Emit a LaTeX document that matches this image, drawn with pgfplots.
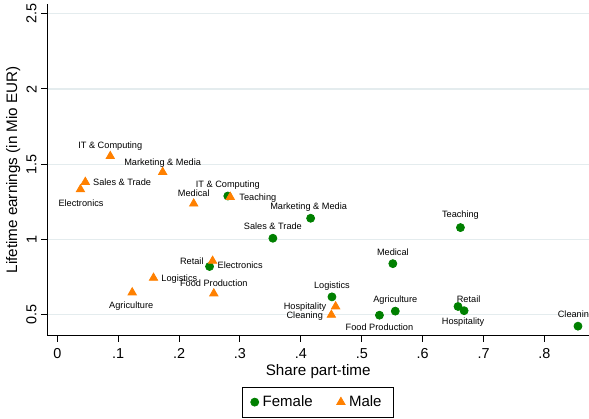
\documentclass[border=0pt]{standalone}
\usepackage{fontspec}
\setmainfont{Liberation Sans}
\usepackage{pgfplots}
\usepackage{pgfplotstable}
\pgfplotsset{compat=1.18}

\definecolor{stgreen}{RGB}{0,128,0}
\definecolor{storange}{RGB}{255,128,0}
\definecolor{stgrid}{RGB}{228,236,238}

% x, y, label, shift of the label centre (pt)
\pgfplotstableread[col sep=comma]{
x,y,label,dx,dy
0.280,1.288,IT \& Computing,0,5.4
0.416,1.140,Marketing \& Media,-1,5.5
0.354,1.007,Sales \& Trade,0,5.5
0.662,1.078,Teaching,0,6
0.551,0.838,Medical,0,5.5
0.250,0.819,Electronics,15.3,0
0.451,0.617,Logistics,0,5.5
0.555,0.522,Agriculture,0,5.5
0.529,0.495,Food Production,0,-6.5
0.658,0.553,Retail,5.3,3.3
0.668,0.525,Hospitality,-0.5,-5.8
0.855,0.422,Cleaning,-1,5.5
}\female

\pgfplotstableread[col sep=comma]{
x,y,label,dx,dy
0.087,1.553,IT \& Computing,0,5
0.173,1.447,Marketing \& Media,0,4.5
0.046,1.381,Sales \& Trade,18.4,-0.6
0.038,1.332,Electronics,0.3,-7.3
0.224,1.237,Medical,0,4.7
0.284,1.281,Teaching,13.8,-0.6
0.255,0.856,Retail,-10.4,-0.8
0.158,0.743,Logistics,12.9,-0.6
0.123,0.646,Agriculture,-0.5,-7
0.257,0.639,Food Production,0,4.6
0.457,0.553,Hospitality,-15.3,-0.5
0.450,0.497,Cleaning,-13.3,-0.6
}\male

\begin{document}
\begin{tikzpicture}
\begin{axis}[
    scale only axis,
    width=270.85pt, height=165.85pt,
    xmin=-0.01642, xmax=0.8731,
    ymin=0.3586, ymax=2.5655,
    axis x line*=bottom, axis y line*=left,
    axis line style={-, black, line width=0.5pt},
    tick align=outside, major tick length=3pt,
    tick style={black, line width=0.5pt},
    xtick={0,0.1,0.2,0.3,0.4,0.5,0.6,0.7,0.8},
    xticklabels={0,.1,.2,.3,.4,.5,.6,.7,.8},
    ytick={0.5,1,1.5,2,2.5},
    yticklabels={0.5,1,1.5,2,2.5},
    ymajorgrids=true,
    grid style={stgrid, line width=0.6pt},
    /pgf/number format/assume math mode=true,
    ticklabel style={font=\fontsize{7.2}{8}\selectfont},
    yticklabel style={rotate=90, anchor=south},
    yticklabel shift=-1.2pt,
    xlabel={Share part-time},
    ylabel={Lifetime earnings (in Mio EUR)},
    label style={font=\fontsize{7.6}{9}\selectfont},
    xlabel style={at={(axis description cs:0.5,-0.108)}, anchor=center},
    ylabel style={at={(axis description cs:-0.063,0.5)}, anchor=center},
    legend style={at={(0.5,-0.154)}, anchor=north, legend columns=2,
        draw=black, line width=0.4pt, font=\fontsize{7.5}{9}\selectfont,
        inner xsep=4pt, inner ysep=2pt,
        /tikz/every even column/.append style={column sep=10pt}},
    legend cell align=left,
]
\addplot[only marks, mark=*, mark size=2pt,
    mark options={fill=stgreen, draw=stgreen},
    nodes near coords, point meta=explicit symbolic,
    visualization depends on={\thisrow{dx}\as\mydx},
    visualization depends on={\thisrow{dy}\as\mydy},
    nodes near coords style={anchor=center, xshift=\mydx pt, yshift=\mydy pt,
        inner sep=0pt, text height=3.3pt, text depth=0.9pt, text=black,
        font=\fontsize{4.6}{5.5}\selectfont}]
    table[x=x, y=y, meta=label] {\female};
\addlegendentry{Female}
\addplot[only marks, mark=triangle*, mark size=2.4pt,
    mark options={fill=storange, draw=storange},
    nodes near coords, point meta=explicit symbolic,
    visualization depends on={\thisrow{dx}\as\mydx},
    visualization depends on={\thisrow{dy}\as\mydy},
    nodes near coords style={anchor=center, xshift=\mydx pt, yshift=\mydy pt,
        inner sep=0pt, text height=3.3pt, text depth=0.9pt, text=black,
        font=\fontsize{4.6}{5.5}\selectfont}]
    table[x=x, y=y, meta=label] {\male};
\addlegendentry{Male}
\end{axis}
\pgfresetboundingbox
\path[use as bounding box]
    ([xshift=-23.65pt, yshift=-41.15pt]current axis.south west)
    rectangle ([yshift=2pt]current axis.north east);
\end{tikzpicture}
\end{document}
